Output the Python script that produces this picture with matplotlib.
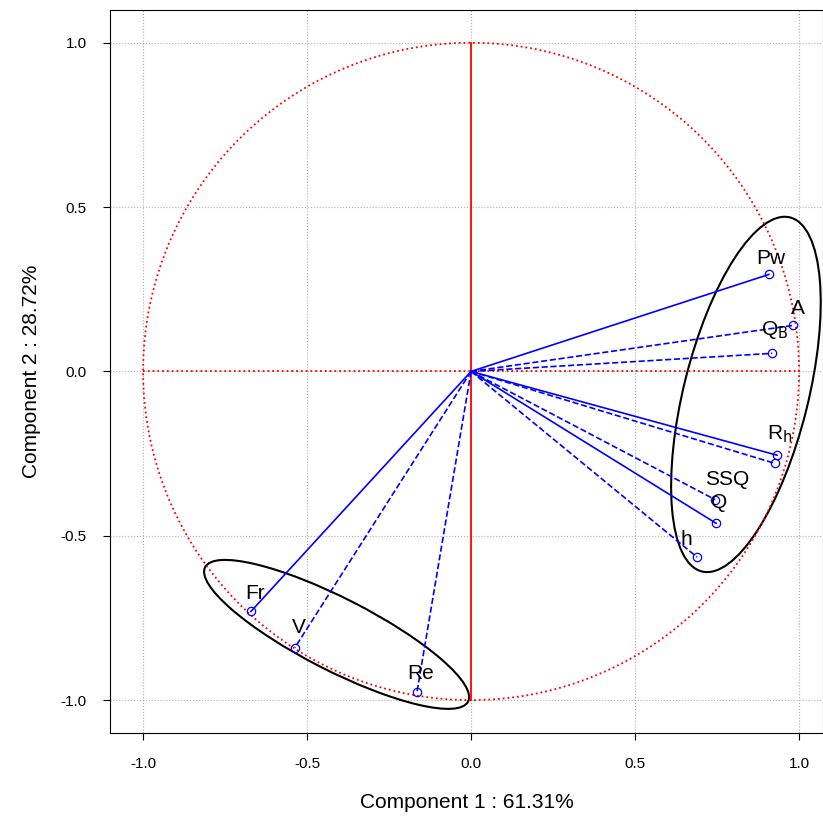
import numpy as np
import matplotlib
matplotlib.use('Agg')
import matplotlib.pyplot as plt
from matplotlib.patches import Ellipse

plt.rcParams['font.family'] = ['Liberation Sans', 'DejaVu Sans']

names = ['Pw', 'A', 'QB', 'Rh1', 'Rh2', 'SSQ', 'Q', 'h', 'Fr', 'V', 'Re']
xs = [0.908, 0.982, 0.918, 0.933, 0.927, 0.744, 0.747, 0.689, -0.671, -0.537, -0.165]
ys = [0.295, 0.140, 0.055, -0.255, -0.280, -0.390, -0.462, -0.565, -0.730, -0.840, -0.976]
styles = ['-', '--', '--', '-', '--', '--', '-', '--', '-', '--', '--']
labels = ['Pw', 'A', r'Q$_{\rm B}$', r'R$_{\rm h}$', 'SSQ', 'Q', 'h', 'Fr', 'V', 'Re']
lab_xy = [(0.915, 0.345), (0.995, 0.19), (0.925, 0.125), (0.94, -0.19),
          (0.78, -0.33), (0.755, -0.40), (0.655, -0.51), (-0.66, -0.675), (-0.525, -0.78), (-0.155, -0.92)]

fig = plt.figure(figsize=(8.23, 8.19), dpi=100)
ax = fig.add_axes([0.134, 0.105, 0.866, 0.883])
ax.set_xlim(-1.1, 1.073)
ax.set_ylim(-1.1, 1.1)
ax.grid(True, color='#b0b0b0', ls=':', lw=0.8)
ax.set_axisbelow(True)

t = np.linspace(0, 2 * np.pi, 400)
ax.plot(np.cos(t), np.sin(t), color='red', ls=':', lw=1.3)
ax.plot([0, 0], [-1, 1], color='red', lw=1.3)
ax.plot([-1, 1], [0, 0], color='red', ls=':', lw=1.3)

for x, y, s in zip(xs, ys, styles):
    ax.plot([0, x], [0, y], color='blue', ls=s, lw=1.2)
ax.plot(xs, ys, 'o', mfc='none', mec='blue', ms=6, mew=0.9)
for (lx, ly), l in zip(lab_xy, labels):
    ax.text(lx, ly, l, ha='center', va='center', fontsize=15)

ax.add_patch(Ellipse((0.838, -0.07), 1.11, 0.38, angle=76, fill=False, color='black', lw=1.5))
ax.add_patch(Ellipse((-0.41, -0.80), 0.90, 0.22, angle=-27, fill=False, color='black', lw=1.5))

ticks = [-1.0, -0.5, 0.0, 0.5, 1.0]
ax.set_xticks(ticks)
ax.set_yticks(ticks)
ax.set_xticklabels([f'{v:.1f}' for v in ticks], fontsize=11)
ax.set_yticklabels([f'{v:.1f}' for v in ticks], fontsize=11)
ax.tick_params(direction='out', length=5, pad=12)
ax.set_xlabel('Component 1 : 61.31%', fontsize=15, labelpad=16)
ax.set_ylabel('Component 2 : 28.72%', fontsize=15, labelpad=14)

fig.savefig('out.png', dpi=100)
